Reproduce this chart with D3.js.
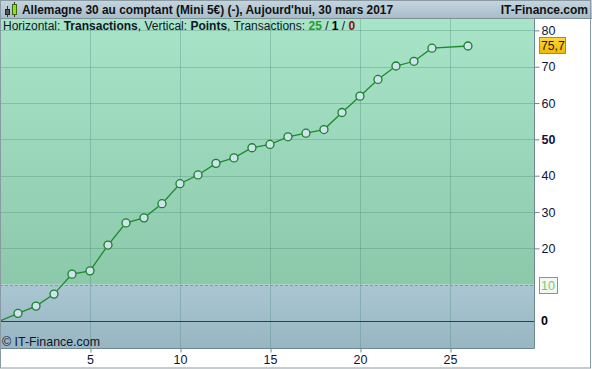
<!DOCTYPE html>
<html lang="fr">
<head>
  <meta charset="UTF-8">
  <title>Allemagne 30 au comptant</title>
  <script src="https://d3js.org/d3.v7.min.js"></script>
  <style>
    body { margin: 0; background: #fff; }
    svg { display: block; font-family: "Liberation Sans", Arial, sans-serif; }
  </style>
</head>
<body>
  <div id="chart"></div>
  <script>
    // Transaction number and cumulated points
    const trades = [0, 1, 2, 3, 4, 5, 6, 7, 8, 9, 10, 11, 12, 13, 14, 15, 16, 17, 18, 19, 20, 21, 22, 23, 24, 26];
    const points = [0, 2.1, 4.1, 7.4, 12.9, 13.8, 20.9, 27.0, 28.4, 32.3, 37.8, 40.2, 43.4, 44.9, 47.7, 48.6,
                    50.7, 51.7, 52.7, 57.4, 61.9, 66.5, 70.2, 71.5, 75.1, 75.7];
    const xTicks = [5, 10, 15, 20, 25];
    const yTicks = [0, 10, 20, 30, 40, 50, 60, 70, 80];
    const lastValue = 75.7;
    const threshold = 10;

    const W = 592, H = 369;
    const plot = { left: 0, top: 19, right: 534, bottom: 348 };

    const x = d3.scaleLinear().domain([0, 29.67]).range([plot.left, plot.right]);
    const y = d3.scaleLinear().domain([0, 80]).range([321, 30.4]);

    const svg = d3.select('#chart').append('svg')
      .attr('width', W).attr('height', H);

    const defs = svg.append('defs');
    const grad = (id, c1, c2) => {
      const g = defs.append('linearGradient').attr('id', id)
        .attr('x1', 0).attr('y1', 0).attr('x2', 0).attr('y2', 1);
      g.append('stop').attr('offset', '0%').attr('stop-color', c1);
      g.append('stop').attr('offset', '100%').attr('stop-color', c2);
    };
    grad('gTitle', '#c6d6e0', '#a6bbc8');
    grad('gGreen', '#a8e4c8', '#8cc8aa');
    grad('gBlue', '#a9c6d2', '#98b6c2');
    grad('gYellow', '#ffd83a', '#f0b800');
    defs.append('clipPath').attr('id', 'clip').append('rect')
      .attr('x', plot.left).attr('y', plot.top)
      .attr('width', plot.right - plot.left).attr('height', plot.bottom - plot.top);

    // plot background: above / below the 10 level
    svg.append('rect')
      .attr('x', plot.left).attr('y', plot.top)
      .attr('width', plot.right - plot.left).attr('height', y(threshold) - plot.top)
      .attr('fill', 'url(#gGreen)');
    svg.append('rect')
      .attr('x', plot.left).attr('y', y(threshold))
      .attr('width', plot.right - plot.left).attr('height', plot.bottom - y(threshold))
      .attr('fill', 'url(#gBlue)');

    // grid
    const grid = svg.append('g').attr('clip-path', 'url(#clip)')
      .attr('stroke', '#4e8c78').attr('stroke-opacity', 0.35).attr('stroke-width', 1);
    grid.selectAll('line.v').data(xTicks).join('line')
      .attr('x1', d => Math.round(x(d)) + 0.5).attr('x2', d => Math.round(x(d)) + 0.5)
      .attr('y1', plot.top).attr('y2', plot.bottom);
    grid.selectAll('line.h').data(yTicks.filter(d => d !== 0 && d !== threshold)).join('line')
      .attr('x1', plot.left).attr('x2', plot.right)
      .attr('y1', d => Math.round(y(d)) + 0.5).attr('y2', d => Math.round(y(d)) + 0.5);

    // threshold dashed line and zero line
    svg.append('line')
      .attr('x1', plot.left).attr('x2', plot.right)
      .attr('y1', Math.round(y(threshold)) + 0.5).attr('y2', Math.round(y(threshold)) + 0.5)
      .attr('stroke', '#4cc454').attr('stroke-dasharray', '3,2');
    svg.append('line')
      .attr('x1', plot.left).attr('x2', plot.right)
      .attr('y1', Math.round(y(0)) + 0.5).attr('y2', Math.round(y(0)) + 0.5)
      .attr('stroke', '#2232b4');

    // equity line
    const data = trades.map((t, i) => ({ t, v: points[i] }));
    const g = svg.append('g').attr('clip-path', 'url(#clip)');
    g.append('path').datum(data)
      .attr('fill', 'none').attr('stroke', '#1f8a2c').attr('stroke-width', 1.3)
      .attr('d', d3.line().x(d => x(d.t)).y(d => y(d.v)));
    g.selectAll('circle').data(data.filter(d => d.t > 0)).join('circle')
      .attr('cx', d => x(d.t)).attr('cy', d => y(d.v)).attr('r', 4)
      .attr('fill', '#cfe2ee').attr('stroke', '#1a8028').attr('stroke-width', 1.3);

    // plot frame
    svg.append('path')
      .attr('d', `M${plot.right + 0.5},${plot.top}V${plot.bottom + 0.5}H${plot.left}`)
      .attr('fill', 'none').attr('stroke', '#6e8890');

    // right axis
    const yAxis = svg.append('g')
      .attr('transform', `translate(${plot.right + 0.5},0)`)
      .call(d3.axisRight(y).tickValues(yTicks.filter(d => d !== 0 && d !== threshold))
        .tickSize(5).tickPadding(2).tickFormat(d3.format('d')));
    yAxis.select('.domain').remove();
    yAxis.selectAll('line').attr('stroke', '#6e8890');
    yAxis.selectAll('text').attr('font-size', 12.5).attr('fill', '#12123a')
      .attr('font-family', '"Liberation Sans", Arial, sans-serif')
      .attr('font-weight', d => d === 50 ? 'bold' : 'normal');

    svg.append('text').attr('x', 541).attr('y', y(0)).attr('dy', '0.35em')
      .attr('font-size', 12.5).attr('font-weight', 'bold').attr('fill', '#000').text('0');

    // threshold label box
    const tb = svg.append('g').attr('transform', `translate(539,${Math.round(y(threshold)) - 8})`);
    tb.append('rect').attr('x', 0.5).attr('y', 0.5).attr('width', 18).attr('height', 16)
      .attr('fill', '#f4f6f4').attr('stroke', '#8a9498');
    tb.append('text').attr('x', 2).attr('y', 13).attr('font-size', 12.5)
      .attr('fill', '#6ed072').text(threshold);

    // last value label box
    const lb = svg.append('g').attr('transform', `translate(539,${Math.round(y(lastValue)) - 9})`);
    lb.append('rect').attr('x', 0.5).attr('y', 0.5).attr('width', 26).attr('height', 16)
      .attr('fill', 'url(#gYellow)').attr('stroke', '#8a8a8a');
    lb.append('text').attr('x', 2).attr('y', 13).attr('font-size', 12.2)
      .attr('fill', '#1a1a1a').text(d3.format('.1f')(lastValue).replace('.', ','));

    // bottom axis
    const xAxis = svg.append('g')
      .attr('transform', `translate(0,${plot.bottom + 0.5})`)
      .call(d3.axisBottom(x).tickValues(xTicks).tickSize(4).tickPadding(3));
    xAxis.select('.domain').remove();
    xAxis.selectAll('line').attr('stroke', '#6e8890')
      .attr('transform', d => `translate(${Math.round(x(d)) + 0.5 - x(d)},0)`);
    xAxis.selectAll('text').attr('font-size', 12.5).attr('fill', '#12123a')
      .attr('font-family', '"Liberation Sans", Arial, sans-serif');

    // copyright
    svg.append('text').attr('x', 2).attr('y', 346).attr('font-size', 12.4)
      .attr('fill', '#14142a').text('© IT-Finance.com');

    // title bar
    svg.append('rect').attr('x', 0).attr('y', 0).attr('width', W).attr('height', 19)
      .attr('fill', 'url(#gTitle)');
    svg.append('line').attr('x1', 0).attr('x2', W).attr('y1', 18.5).attr('y2', 18.5)
      .attr('stroke', '#7e9098');
    // candle icon
    const icon = svg.append('g');
    icon.append('line').attr('x1', 7.5).attr('x2', 7.5).attr('y1', 6).attr('y2', 17).attr('stroke', '#333');
    icon.append('rect').attr('x', 5.5).attr('y', 9.5).attr('width', 4).attr('height', 5)
      .attr('fill', '#5a5a5a').attr('stroke', '#222');
    icon.append('line').attr('x1', 14.5).attr('x2', 14.5).attr('y1', 2).attr('y2', 17).attr('stroke', '#333');
    icon.append('rect').attr('x', 12.5).attr('y', 4.5).attr('width', 4).attr('height', 10)
      .attr('fill', '#8ee020').attr('stroke', '#3a6a10');
    svg.append('text').attr('x', 22).attr('y', 14).attr('font-size', 11.9).attr('font-weight', 'bold')
      .attr('fill', '#111').text("Allemagne 30 au comptant (Mini 5€) (-), Aujourd'hui, 30 mars 2017");
    svg.append('text').attr('x', 588).attr('y', 14).attr('text-anchor', 'end')
      .attr('font-size', 12).attr('font-weight', 'bold').attr('fill', '#111').text('IT-Finance.com');

    // info line
    const info = svg.append('text').attr('x', 3).attr('y', 30).attr('font-size', 12).attr('fill', '#14142a');
    info.append('tspan').text('Horizontal: ');
    info.append('tspan').attr('font-weight', 'bold').text('Transactions');
    info.append('tspan').text(', Vertical: ');
    info.append('tspan').attr('font-weight', 'bold').text('Points');
    info.append('tspan').text(', Transactions: ');
    info.append('tspan').attr('font-weight', 'bold').attr('fill', '#2a9a2a').text(trades.length - 1);
    info.append('tspan').text(' / ');
    info.append('tspan').attr('font-weight', 'bold').attr('fill', '#000').text('1');
    info.append('tspan').text(' / ');
    info.append('tspan').attr('font-weight', 'bold').attr('fill', '#8a1010').text('0');

    // outer frame
    svg.append('rect').attr('x', 0.5).attr('y', 0.5).attr('width', 590).attr('height', 367.5)
      .attr('fill', 'none').attr('stroke', '#8a9aa2');
  </script>
</body>
</html>
